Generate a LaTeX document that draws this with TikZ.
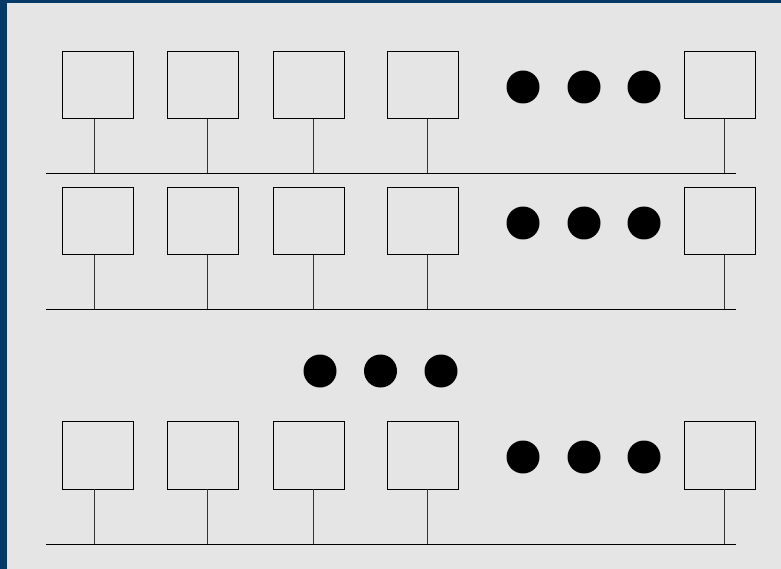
\documentclass[tikz,border=0pt]{standalone}
\usetikzlibrary{calc}
\definecolor{frameblue}{HTML}{063868}
\definecolor{panelgray}{HTML}{E5E5E5}
\tikzset{
  unitbox/.style={draw=black, line width=0.8pt, fill=panelgray, rectangle, inner sep=0pt, minimum width=71pt, minimum height=67.5pt, anchor=north west},
  busline/.style={draw=black, line width=0.9pt},
  stemline/.style={draw=black!80, line width=0.9pt},
  bigdot/.style={circle, fill=black, inner sep=0pt, minimum size=33pt},
}
\begin{document}
\begin{tikzpicture}[x=1pt,y=-1pt]
\fill[frameblue] (0,0) rectangle (781,569);
\fill[panelgray] (7,3) rectangle (781,569);
\useasboundingbox (0,0) rectangle (781,569);
\foreach \r/\top/\bus/\dy in {1/51/173/87, 2/187/309/223, 3/421/544/457}{
  \foreach \i/\xl/\sx in {1/62/94, 2/167/207, 3/273/313, 4/387/427, 5/684/724}{
    \node[unitbox] (b\r\i) at (\xl,\top) {};
    \coordinate (s\r\i) at (\sx,\bus);
    \draw[stemline] (b\r\i.south -| s\r\i) -- (s\r\i);
  }
  \coordinate (l\r) at (46,\bus);
  \coordinate (e\r) at (736,\bus);
  \draw[busline] (l\r) -- (e\r);
  \foreach \j/\dx in {1/523, 2/584, 3/644}{
    \node[bigdot] (d\r\j) at (\dx,\dy) {};
  }
}
\foreach \j/\dx in {1/320, 2/380.5, 3/441}{
  \node[bigdot] (m\j) at (\dx,371) {};
}
\end{tikzpicture}
\end{document}
